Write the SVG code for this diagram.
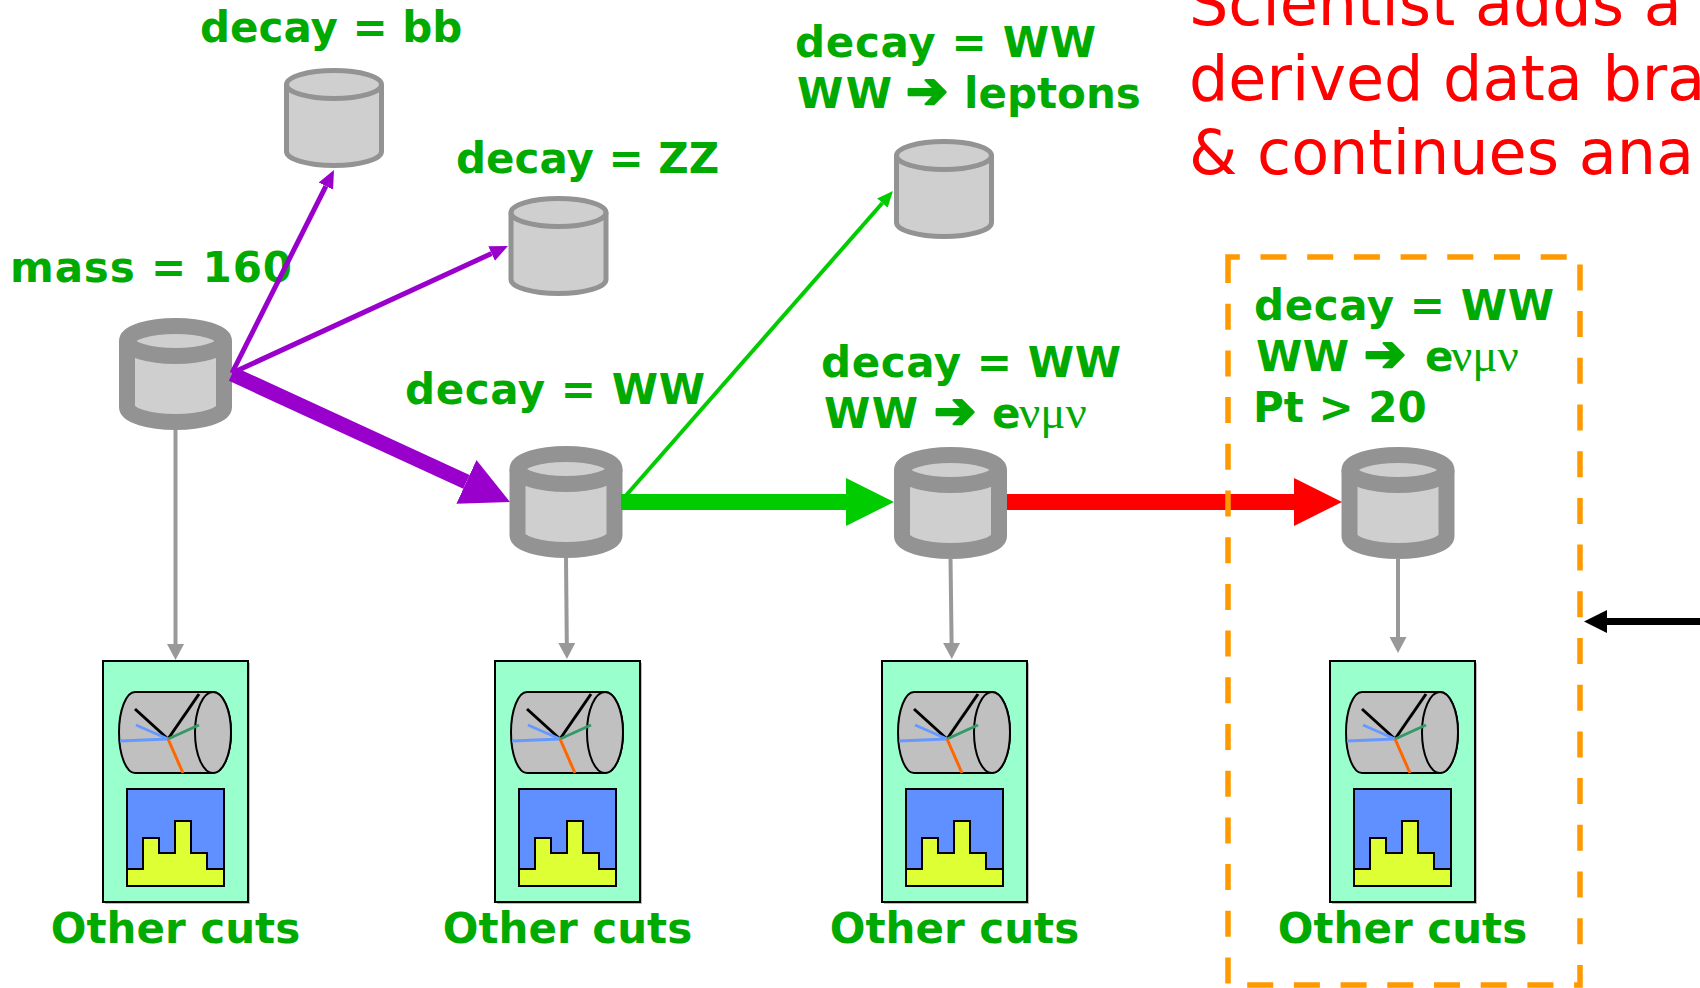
<svg xmlns="http://www.w3.org/2000/svg" xmlns:xlink="http://www.w3.org/1999/xlink" width="1700" height="988" viewBox="0 0 1700 988">
  <style>
    .lbl { font-family: "DejaVu Sans", Verdana, sans-serif; font-weight: bold; font-size: 42px; fill: #00aa00; }
    .greek { font-family: "Liberation Serif", "DejaVu Serif", serif; font-weight: normal; font-size: 47px; }
    .arr { font-family: "DejaVu Sans", sans-serif; font-size: 50px; stroke: #00aa00; stroke-width: 2.5; stroke-linejoin: round; }
    .note { font-family: "DejaVu Sans", Verdana, sans-serif; font-size: 62px; fill: #ff0000; }
    .dbBig { fill: #cfcfcf; stroke: #939393; stroke-width: 16; stroke-linejoin: round; }
    .dbSmall { fill: #cfcfcf; stroke: #939393; stroke-width: 5; stroke-linejoin: round; }
    .trk { stroke-width: 3; }
    .edge { fill: none; }
  </style>
  <defs>
    <!-- arrowheads, base at the line end, tip pointing forward -->
    <marker id="hPurpleBig" markerUnits="userSpaceOnUse" markerWidth="48" markerHeight="48" refX="0" refY="24" orient="auto">
      <path d="M0,0 L48,24 L0,48 Z" fill="#9900cc"/>
    </marker>
    <marker id="hGreenBig" markerUnits="userSpaceOnUse" markerWidth="48" markerHeight="48" refX="0" refY="24" orient="auto">
      <path d="M0,0 L48,24 L0,48 Z" fill="#00cc00"/>
    </marker>
    <marker id="hRedBig" markerUnits="userSpaceOnUse" markerWidth="48" markerHeight="48" refX="0" refY="24" orient="auto">
      <path d="M0,0 L48,24 L0,48 Z" fill="#ff0000"/>
    </marker>
    <marker id="hPurple" markerUnits="userSpaceOnUse" markerWidth="18" markerHeight="16" refX="0" refY="8" orient="auto">
      <path d="M0,0 L18,8 L0,16 Z" fill="#9900cc"/>
    </marker>
    <marker id="hGreen" markerUnits="userSpaceOnUse" markerWidth="16" markerHeight="14" refX="0" refY="7" orient="auto">
      <path d="M0,0 L16,7 L0,14 Z" fill="#00cc00"/>
    </marker>
    <marker id="hGray" markerUnits="userSpaceOnUse" markerWidth="16" markerHeight="17" refX="0" refY="8.5" orient="auto">
      <path d="M0,0 L16,8.5 L0,17 Z" fill="#999999"/>
    </marker>
    <marker id="hBlack" markerUnits="userSpaceOnUse" markerWidth="23" markerHeight="23" refX="0" refY="11.5" orient="auto">
      <path d="M0,0 L23,11.5 L0,23 Z" fill="#000000"/>
    </marker>

    <!-- database cylinders, origin at the centre of the top ellipse -->
    <g id="dbMain">
      <path class="dbBig" d="M-48.5,0 V66 A48.5,15 0 0 0 48.5,66 V0"/>
      <ellipse class="dbBig" cx="0" cy="0" rx="48.5" ry="15"/>
    </g>
    <g id="dbSmall">
      <path class="dbSmall" d="M-47.5,0 V67 A47.5,14 0 0 0 47.5,67 V0"/>
      <ellipse class="dbSmall" cx="0" cy="0" rx="47.5" ry="14"/>
    </g>

    <!-- analysis panel: detector event display above a histogram -->
    <g id="cutsPanel">
      <rect x="2" y="2" width="145" height="241" fill="#bdbdbd"/>
      <rect x="0" y="0" width="145" height="241" fill="#99ffcc" stroke="#000" stroke-width="2"/>
      <path d="M32,31 H110 A18,40.5 0 0 1 110,112 H32 A16,40.5 0 0 1 32,31 Z" fill="#c0c0c0" stroke="#000" stroke-width="2"/>
      <ellipse cx="110" cy="71.5" rx="18" ry="40.5" fill="#c0c0c0" stroke="#000" stroke-width="2"/>
      <line class="trk" x1="65" y1="78" x2="32" y2="48" stroke="#000000"/>
      <line class="trk" x1="65" y1="78" x2="96" y2="33" stroke="#000000"/>
      <line class="trk" x1="65" y1="78" x2="33" y2="64" stroke="#6699ff"/>
      <line class="trk" x1="65" y1="78" x2="17" y2="80" stroke="#6699ff"/>
      <line class="trk" x1="65" y1="78" x2="96" y2="64" stroke="#339966"/>
      <line class="trk" x1="65" y1="78" x2="80" y2="112" stroke="#ff6600"/>
      <rect x="24" y="128" width="97" height="97" fill="#6090ff" stroke="#000" stroke-width="2"/>
      <path d="M24,208 H40 V177 H56 V192 H72 V160 H88 V192 H104 V208 H121 V225 H24 Z" fill="#ddff33" stroke="#000" stroke-width="2"/>
    </g>
  </defs>

  <rect width="1700" height="988" fill="#ffffff"/>

  <!-- caption -->
  <g id="caption">
    <text class="note" x="1189" y="25">Scientist adds a</text>
    <text class="note" x="1189" y="100">derived data bra</text>
    <text class="note" x="1189" y="174">&amp; continues ana</text>
  </g>

  <!-- datasets -->
  <g id="db-mass160">
    <text class="lbl" x="10" y="282" textLength="282" lengthAdjust="spacing">mass = 160</text>
    <use href="#dbMain" x="175.5" y="341"/>
  </g>
  <g id="db-bb">
    <text class="lbl" x="200" y="42">decay = bb</text>
    <use href="#dbSmall" x="334" y="84.5"/>
  </g>
  <g id="db-zz">
    <text class="lbl" x="456" y="173">decay = ZZ</text>
    <use href="#dbSmall" x="558.5" y="212.5"/>
  </g>
  <g id="db-ww">
    <text class="lbl" x="405" y="404" textLength="300" lengthAdjust="spacing">decay = WW</text>
    <use href="#dbMain" x="566" y="469"/>
  </g>
  <g id="db-leptons">
    <text class="lbl" x="795" y="57" textLength="301" lengthAdjust="spacing">decay = WW</text>
    <text class="lbl" y="108"><tspan x="797" textLength="95" lengthAdjust="spacing">WW</tspan><tspan class="arr" x="906">➔</tspan><tspan x="964">leptons</tspan></text>
    <use href="#dbSmall" x="944" y="155.5"/>
  </g>
  <g id="db-emu">
    <text class="lbl" x="821" y="377" textLength="300" lengthAdjust="spacing">decay = WW</text>
    <text class="lbl" y="428"><tspan x="824" textLength="94" lengthAdjust="spacing">WW</tspan><tspan class="arr" x="934">➔</tspan><tspan x="992">e</tspan><tspan class="greek" x="1019">νμν</tspan></text>
    <use href="#dbMain" x="950.5" y="470"/>
  </g>
  <g id="db-pt20">
    <text class="lbl" x="1254" y="320" textLength="300" lengthAdjust="spacing">decay = WW</text>
    <text class="lbl" y="371"><tspan x="1256" textLength="93" lengthAdjust="spacing">WW</tspan><tspan class="arr" x="1364">➔</tspan><tspan x="1425">e</tspan><tspan class="greek" x="1451">νμν</tspan></text>
    <text class="lbl" x="1253" y="422">Pt &gt; 20</text>
    <use href="#dbMain" x="1398" y="470"/>
  </g>

  <!-- analysis panels -->
  <g id="cuts-1">
    <use href="#cutsPanel" x="103" y="661"/>
    <text class="lbl" x="175.5" y="943" text-anchor="middle">Other cuts</text>
  </g>
  <g id="cuts-2">
    <use href="#cutsPanel" x="495" y="661"/>
    <text class="lbl" x="567.5" y="943" text-anchor="middle">Other cuts</text>
  </g>
  <g id="cuts-3">
    <use href="#cutsPanel" x="882" y="661"/>
    <text class="lbl" x="954.5" y="943" text-anchor="middle">Other cuts</text>
  </g>
  <g id="cuts-4">
    <use href="#cutsPanel" x="1330" y="661"/>
    <text class="lbl" x="1402.5" y="943" text-anchor="middle">Other cuts</text>
  </g>

  <!-- connectors -->
  <g id="connectors" class="edge">
    <line x1="232" y1="373" x2="325.9" y2="186.1" stroke="#9900cc" stroke-width="5" marker-end="url(#hPurple)"/>
    <line x1="232" y1="373" x2="491.6" y2="253.5" stroke="#9900cc" stroke-width="5" marker-end="url(#hPurple)"/>
    <line x1="232" y1="374" x2="466.4" y2="481.9" stroke="#9900cc" stroke-width="15" marker-end="url(#hPurpleBig)"/>
    <line x1="622" y1="500" x2="882.4" y2="203" stroke="#00cc00" stroke-width="4" marker-end="url(#hGreen)"/>
    <line x1="621" y1="502" x2="846" y2="502" stroke="#00cc00" stroke-width="16" marker-end="url(#hGreenBig)"/>
    <line x1="1007" y1="502" x2="1294" y2="502" stroke="#ff0000" stroke-width="16" marker-end="url(#hRedBig)"/>
    <line x1="175.5" y1="430" x2="175.5" y2="644" stroke="#999999" stroke-width="4" marker-end="url(#hGray)"/>
    <line x1="566" y1="558" x2="566.8" y2="643" stroke="#999999" stroke-width="4" marker-end="url(#hGray)"/>
    <line x1="950.5" y1="558" x2="951.6" y2="643" stroke="#999999" stroke-width="4" marker-end="url(#hGray)"/>
    <line x1="1398" y1="558" x2="1398" y2="637" stroke="#999999" stroke-width="4" marker-end="url(#hGray)"/>
  </g>

  <!-- highlighted new branch -->
  <g id="new-branch-frame">
    <path d="M1228,257 V985 H1580 V257 Z" fill="none" stroke="#ff9900" stroke-width="5.5" stroke-dasharray="26 20.7"/>
  </g>
  <g id="pointer">
    <line x1="1702" y1="621.5" x2="1607" y2="621.5" stroke="#000000" stroke-width="7" marker-end="url(#hBlack)"/>
  </g>
</svg>
